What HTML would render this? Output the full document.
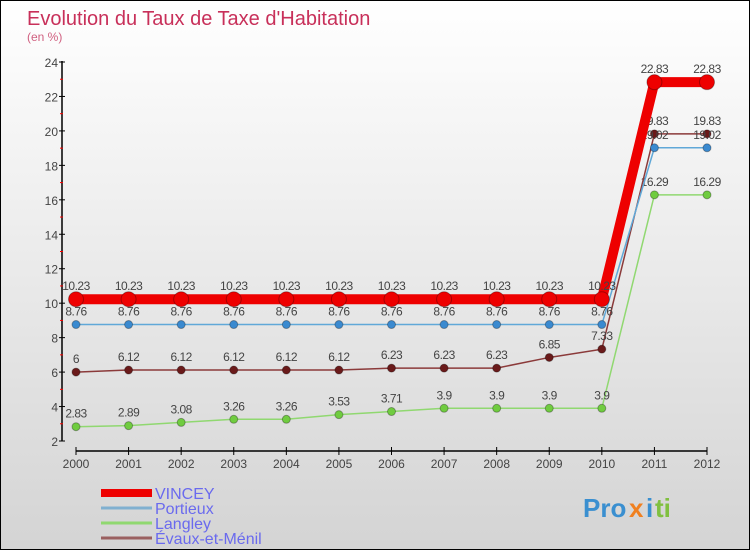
<!DOCTYPE html>
<html><head><meta charset="utf-8"><style>
body{margin:0}
#c{position:relative;width:748px;height:548px;border:1px solid #000;background:linear-gradient(#fff,#d4d4d4);overflow:hidden;font-family:"Liberation Sans",sans-serif}
</style></head><body>
<div id="c">
<svg id="s" width="748" height="548" xmlns="http://www.w3.org/2000/svg">
<text x="26" y="24" font-size="20" fill="#c8305a">Evolution du Taux de Taxe d'Habitation</text>
<text x="26" y="40" font-size="12" fill="#d06080">(en %)</text>
<g id="axes"></g><g id="series"></g><g id="legend"></g>
<g font-size="26" font-weight="bold">
<text x="582" y="516" fill="#3a8fd0">Pro</text><text x="628" y="516" fill="#f08020">x</text><text x="645" y="516" fill="#3a8fd0">i</text><text x="654" y="516" fill="#80c040">ti</text>
</g>
</svg>
</div>
<script>
const years=[2000,2001,2002,2003,2004,2005,2006,2007,2008,2009,2010,2011,2012];
const yTicks=[2,4,6,8,10,12,14,16,18,20,22,24];
const seriesNames=["VINCEY","Portieux","Langley","Évaux-et-Ménil"];
const vincey=[10.23,10.23,10.23,10.23,10.23,10.23,10.23,10.23,10.23,10.23,10.23,22.83,22.83];
const portieux=[8.76,8.76,8.76,8.76,8.76,8.76,8.76,8.76,8.76,8.76,8.76,19.02,19.02];
const langley=[2.83,2.89,3.08,3.26,3.26,3.53,3.71,3.9,3.9,3.9,3.9,16.29,16.29];
const evaux=[6,6.12,6.12,6.12,6.12,6.12,6.23,6.23,6.23,6.85,7.33,19.83,19.83];
const NS="http://www.w3.org/2000/svg";
const X=i=>75+i*(706-75)/(years.length-1);
const Y=v=>440-(v-2)*(440-61)/22;
function el(t,a,p){const e=document.createElementNS(NS,t);for(const k in a)e.setAttribute(k,a[k]);p.appendChild(e);return e;}
const ax=document.getElementById('axes');
const ya=el('line',{x1:61,y1:60,x2:61,y2:440,stroke:'#000','stroke-width':1.5},ax);


const xa=el('line',{x1:75,y1:450,x2:706,y2:450,stroke:'#000','stroke-width':1.5},ax);


yTicks.forEach(v=>{
 el('line',{x1:58,y1:Y(v),x2:64,y2:Y(v),stroke:'#000'},ax);
 if(v<24) el('line',{x1:59,y1:Y(v+1),x2:62,y2:Y(v+1),stroke:'#f00'},ax);
 const t=el('text',{x:57,y:Y(v)+5,'text-anchor':'end','font-size':12,fill:'#444'},ax);t.textContent=v;
 
 
});
years.forEach((y,i)=>{
 el('line',{x1:X(i),y1:446,x2:X(i),y2:454,stroke:'#000'},ax);
 const t=el('text',{x:X(i),y:467,'text-anchor':'middle','font-size':12,fill:'#444'},ax);t.textContent=y;
 
 
});
const sg=document.getElementById('series');
function draw(vals,color,dot,w,r,name){
 const g=el('g',{},sg);
 
 
 el('polyline',{points:vals.map((v,i)=>X(i)+','+Y(v)).join(' '),fill:'none',stroke:color,'stroke-width':w},g);
 vals.forEach((v,i)=>{
  const c=el('circle',{cx:X(i),cy:Y(v),r:r,fill:dot,stroke:'rgba(0,0,0,0.3)'},g);
  
  
  const t=el('text',{x:X(i),y:Y(v)-9,'text-anchor':'middle','font-size':12,fill:'#444','letter-spacing':'-0.5'},g);t.textContent=v;
 });
}
draw(langley,'#90d870','#70cc40',1.5,4,'series-langley');
draw(evaux,'#8b3a3a','#6a1a1a',1.5,4,'series-evaux');
draw(portieux,'#60a8d8','#3a8ad0',1.5,4,'series-portieux');
draw(vincey,'#ee0000','#ee0000',10,7.5,'series-vincey');
const lg=document.getElementById('legend');
const lc=['#ee0000','#80b0d0','#90d870','#9a6060'],lw=[8,3,3,3];
seriesNames.forEach((n,i)=>{
 const y=492+i*15;
 const l=el('line',{x1:100,y1:y,x2:151,y2:y,stroke:lc[i],'stroke-width':lw[i]},lg);
 
 
 const t=el('text',{x:154,y:y+6,'font-size':16,fill:'#6a6aee'},lg);t.textContent=n;
 
 
});
</script>
</body></html>
